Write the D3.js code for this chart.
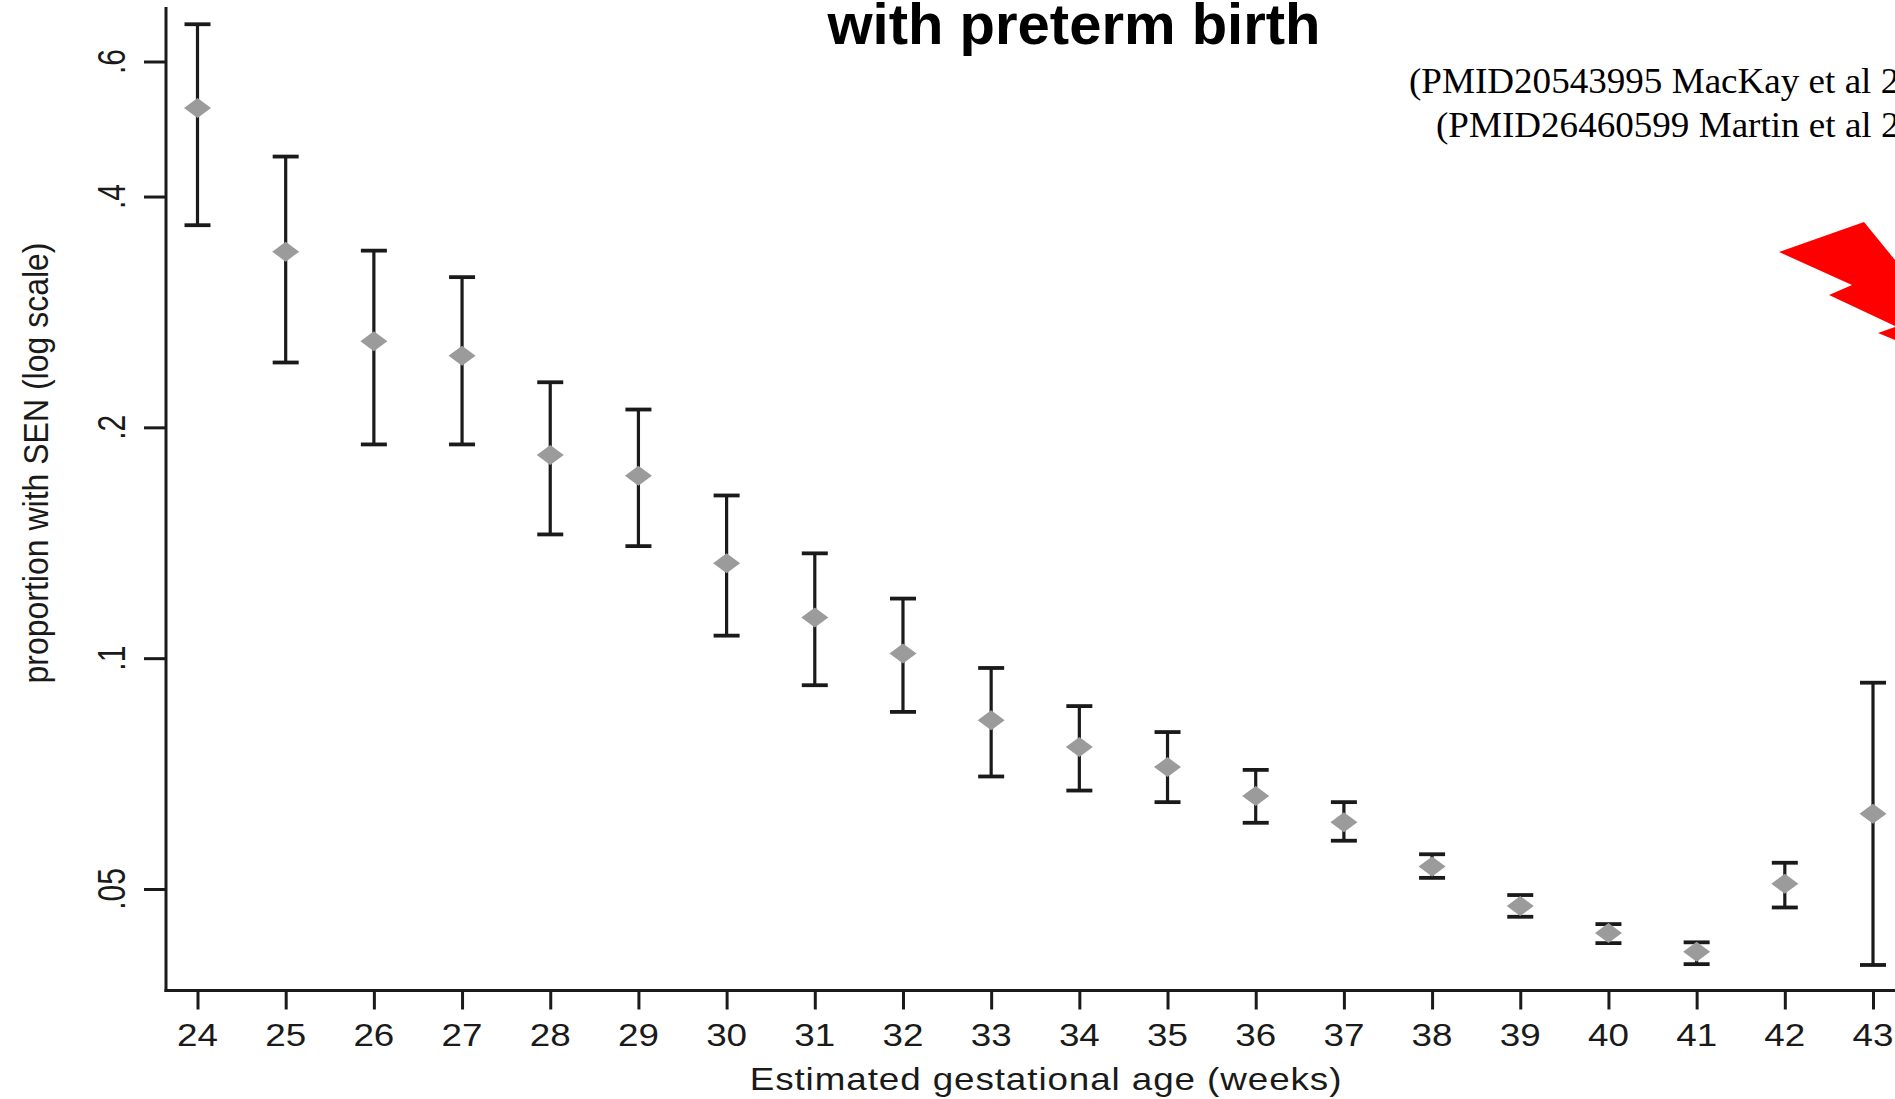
<!DOCTYPE html>
<html>
<head>
<meta charset="utf-8">
<script src="https://cdn.jsdelivr.net/npm/d3@7"></script>
<style>
  html, body { margin: 0; padding: 0; background: #fff; }
  svg { display: block; }
</style>
</head>
<body>
<svg id="chart" width="1895" height="1099"></svg>
<script>
// ---- data ----
const weeks = [24, 25, 26, 27, 28, 29, 30, 31, 32, 33, 34, 35, 36, 37, 38, 39, 40, 41, 42, 43];
const estimate = [0.522, 0.339, 0.259, 0.248, 0.184, 0.173, 0.133, 0.113, 0.1014, 0.0830,
                  0.0766, 0.0721, 0.0661, 0.0611, 0.0535, 0.0475, 0.0438, 0.0414, 0.0508, 0.0627];
const lowerCI = [0.367, 0.243, 0.190, 0.190, 0.145, 0.140, 0.107, 0.0922, 0.0851, 0.0701,
                 0.0672, 0.0649, 0.0610, 0.0578, 0.0517, 0.0460, 0.0425, 0.0399, 0.0473, 0.0398];
const upperCI = [0.671, 0.451, 0.340, 0.314, 0.229, 0.211, 0.163, 0.137, 0.1196, 0.0971,
                 0.0866, 0.0801, 0.0715, 0.0649, 0.0555, 0.0491, 0.0450, 0.0426, 0.0541, 0.0929];
const yTickValues = [0.05, 0.1, 0.2, 0.4, 0.6];
const yTickLabels = [".05", ".1", ".2", ".4", ".6"];
const titleText = "with preterm birth";
const citations = ["(PMID20543995 MacKay et al 2", "(PMID26460599 Martin et al 2"];
const xTitle = "Estimated gestational age (weeks)";
const yTitle = "proportion with SEN (log scale)";

// ---- layout ----
const svg = d3.select("#chart");
svg.append("rect").attr("width", 1895).attr("height", 1099).attr("fill", "#fff");

const axisX0 = 166, axisY0 = 990.5, axisTop = 7;
const x = d3.scaleLinear().domain([24, 43]).range([197.5, 1873]);
const y = d3.scaleLog().domain([0.05, 0.6]).range([889, 61.5]);

const ink = "#1a1a1a";
const sans = "'Liberation Sans', Arial, sans-serif";

// Y axis
const yAxis = d3.axisLeft(y).tickValues(yTickValues).tickSize(22).tickFormat("");
const gy = svg.append("g").attr("transform", `translate(${axisX0},0)`).call(yAxis);
gy.select(".domain").remove();
gy.selectAll(".tick line").attr("stroke", ink).attr("stroke-width", 3);
svg.append("line").attr("x1", axisX0).attr("x2", axisX0)
  .attr("y1", axisTop).attr("y2", axisY0 + 1.5)
  .attr("stroke", ink).attr("stroke-width", 3);

svg.append("g").selectAll("text").data(yTickValues).join("text")
  .attr("transform", (d) => `translate(125,${y(d)}) scale(1.28,1) rotate(-90)`)
  .attr("text-anchor", "middle")
  .attr("font-family", sans).attr("font-size", 30).attr("fill", ink)
  .text((d, i) => yTickLabels[i]);

// X axis
const xAxis = d3.axisBottom(x).tickValues(weeks).tickSize(19).tickFormat("");
const gx = svg.append("g").attr("transform", `translate(0,${axisY0})`).call(xAxis);
gx.select(".domain").remove();
gx.selectAll(".tick line").attr("stroke", ink).attr("stroke-width", 3);
svg.append("line").attr("x1", axisX0 - 1.5).attr("x2", 1895)
  .attr("y1", axisY0).attr("y2", axisY0)
  .attr("stroke", ink).attr("stroke-width", 3);

svg.append("g").selectAll("text").data(weeks).join("text")
  .attr("transform", (d) => `translate(${x(d)},1046) scale(1.15,1)`)
  .attr("text-anchor", "middle")
  .attr("font-family", sans).attr("font-size", 32).attr("fill", ink)
  .text((d) => d);

// Axis titles
svg.append("text")
  .attr("transform", "translate(1046,1090) scale(1.15,1)")
  .attr("text-anchor", "middle")
  .attr("font-family", sans).attr("font-size", 32).attr("letter-spacing", 0.8)
  .attr("fill", ink).text(xTitle);

svg.append("text")
  .attr("transform", "translate(48,463) scale(1.12,1) rotate(-90)")
  .attr("text-anchor", "middle")
  .attr("font-family", sans).attr("font-size", 32)
  .attr("fill", ink).text(yTitle);

// Error bars
const capHalf = 13;
const bars = svg.append("g");
weeks.forEach((w, i) => {
  const cx = x(w);
  bars.append("line").attr("x1", cx).attr("x2", cx)
    .attr("y1", y(upperCI[i])).attr("y2", y(lowerCI[i]))
    .attr("stroke", ink).attr("stroke-width", 3.2);
  [upperCI[i], lowerCI[i]].forEach((v) => {
    bars.append("line").attr("x1", cx - capHalf).attr("x2", cx + capHalf)
      .attr("y1", y(v)).attr("y2", y(v))
      .attr("stroke", ink).attr("stroke-width", 3.8);
  });
});

// Diamond markers
const dw = 13.5, dh = 10;
svg.append("g").selectAll("path").data(weeks).join("path")
  .attr("d", (w, i) => {
    const cx = x(w), cy = y(estimate[i]);
    return `M${cx - dw},${cy}L${cx},${cy - dh}L${cx + dw},${cy}L${cx},${cy + dh}Z`;
  })
  .attr("fill", "#9b9b9b");

// Title (second line visible)
svg.append("text")
  .attr("x", 1074).attr("y", 44)
  .attr("text-anchor", "middle")
  .attr("font-family", sans).attr("font-weight", "bold").attr("font-size", 58)
  .attr("fill", "#000").text(titleText);

// Citations
const serif = "'Liberation Serif', 'Times New Roman', serif";
svg.append("text").attr("transform", "translate(1409,93) scale(1.06,1)")
  .attr("font-family", serif).attr("font-size", 35).attr("fill", "#000").text(citations[0]);
svg.append("text").attr("transform", "translate(1436,137) scale(1.06,1)")
  .attr("font-family", serif).attr("font-size", 35).attr("fill", "#000").text(citations[1]);

// Red arrow decoration (partly off the right edge)
svg.append("path")
  .attr("d", "M1864,222L1895,260L1895,326L1829,295L1852,285L1779,252Z")
  .attr("fill", "#ff0000");
svg.append("path")
  .attr("d", "M1878,333L1895,327L1895,340Z")
  .attr("fill", "#ff0000");
</script>
</body>
</html>
